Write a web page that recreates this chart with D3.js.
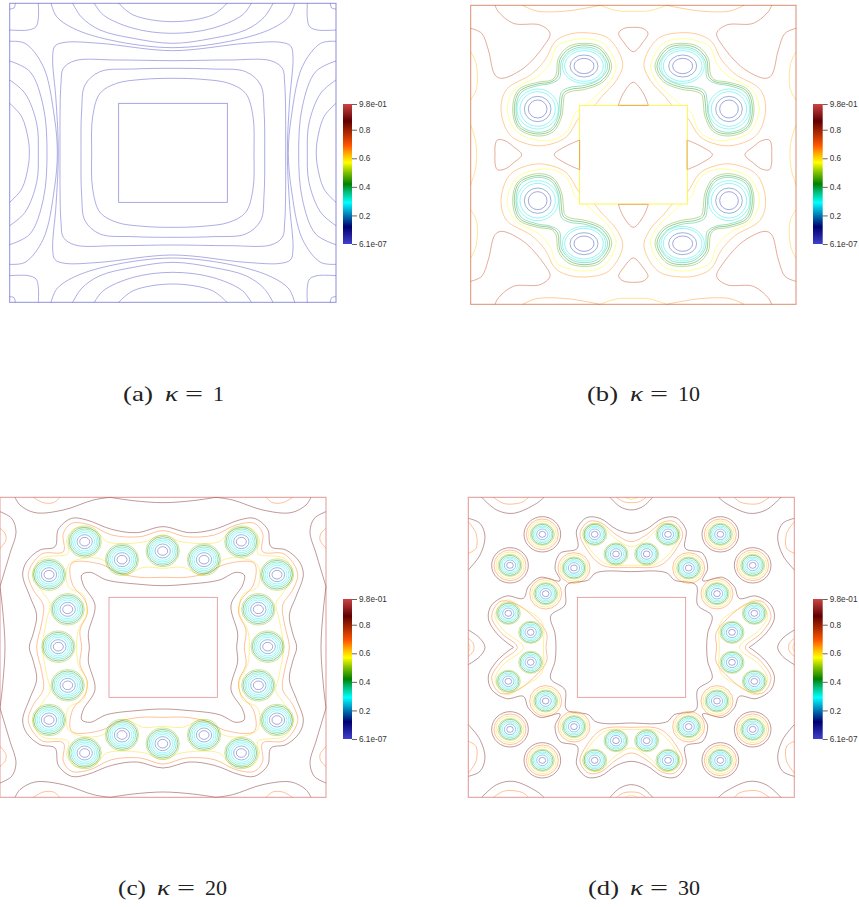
<!DOCTYPE html>
<html>
<head>
<meta charset="utf-8">
<script src="https://cdn.jsdelivr.net/npm/d3@7"></script>
<style>
html,body{margin:0;padding:0;background:#fff;}
svg{display:block;}
</style>
</head>
<body>
<div id="chart"></div>
<script>
// Contours are read off the picture, one quadrant per panel, and mirrored into the other three
// each curve: [level, [[x,y],...]], a curve whose last point equals its first is closed

/** colour bar */
var barStops = [0, 0.12, 0.19, 0.29, 0.36, 0.42, 0.5, 0.57, 0.64, 0.69, 0.86, 0.98];
var barColors = ["#4040cc", "#000070", "#0066aa", "#00ffff", "#00c080", "#008000", "#80c000", "#ffff00", "#ffa000", "#ff5500", "#600000", "#cc4444"];
var barTicks = [6.1e-7, 0.2, 0.4, 0.6, 0.8, 0.98];
var barLabels = ["6.1e-07", "0.2", "0.4", "0.6", "0.8", "9.8e-01"];

/** panel (a) */
var aCurves = [
  [0.02, [[356,10],[400,45],[518,65]]],
  [0.02, [[283,10],[310,45],[400,85],[518,100]]],
  [0.02, [[218,10],[245,52],[300,90],[400,115],[518,130]]],
  [0.02, [[153,10],[170,50],[220,85],[330,120],[518,143]]],
  [0.02, [[518,152],[300,130],[195,127],[165,138],[158,170],[168,300],[175,458]]],
  [0.02, [[180,458],[183,250],[190,205],[225,182],[350,180],[518,182]]],
  [0.02, [[243,458],[245,330],[255,255],[300,215],[400,207],[518,205]]],
  [0.02, [[275,458],[278,350],[300,280],[350,250],[430,238],[518,235]]],
  [0.02, [[29,310],[65,350],[85,420],[88,458]]],
  [0.02, [[29,240],[75,280],[110,370],[115,458]]],
  [0.02, [[29,183],[90,215],[130,320],[141,458]]],
  [0.02, [[29,124],[75,130],[130,200],[163,350],[172,458]]],
  [0.02, [[29,90],[85,90],[108,80],[115,55],[115,10]]],
  [0.02, [[29,27],[42,24],[46,10]]]
];

/** panel (b) */
var bVortices = [[372,198],[233,327]];
var bRings = [
  [[30,23,0.05],[42,33,0.17],[58,46,0.27],[65,52,0.31]],
  [[28,27,0.05],[40,38,0.17],[53,52,0.27],[62,60,0.31]]
];
var bCurves = [
  [0.47, [[372,130],[420,140],[455,198],[430,245],[375,268],[335,274],[315,284],[310,310],[305,350],[280,395],[233,408],[175,385],[158,327],[175,270],[233,247],[275,240],[288,225],[295,175],[325,140],[372,130]]],
  [0.42, [[372,135],[418,146],[449,198],[426,241],[375,262],[332,268],[310,280],[304,310],[300,348],[277,390],[233,402],[178,381],[163,327],[179,274],[233,252],[272,246],[293,230],[300,178],[328,146],[372,135]]],
  [0.37, [[372,141],[413,151],[443,198],[421,236],[375,256],[330,262],[305,275],[298,310],[295,346],[274,385],[233,397],[182,377],[168,327],[183,278],[233,257],[270,251],[298,235],[305,182],[332,151],[372,141]]],
  [0.57, [[372,116],[430,130],[468,198],[450,245],[405,290],[372,320],[345,340],[325,390],[285,418],[233,420],[170,395],[142,327],[165,268],[235,228],[270,190],[290,140],[330,122],[372,116]]],
  [0.66, [[372,98],[445,115],[488,190],[470,240],[425,290],[400,320],[360,350],[320,410],[270,433],[220,436],[150,405],[123,327],[140,268],[215,222],[255,180],[285,125],[320,105],[372,98]]],
  [0.76, [[32,85],[65,100],[85,150],[105,225],[125,235],[190,205],[250,140],[270,100],[240,75],[160,70],[115,35],[105,16]]],
  [0.76, [[520,155],[490,125],[476,100],[490,86],[520,82]]],
  [0.76, [[475,316],[490,280],[520,247]]],
  [0.76, [[185,464],[160,440],[135,422],[112,420],[105,440],[105,464]]],
  [0.76, [[359,420],[315,440],[283,464]]],
  [0.66, [[188,16],[230,33],[320,33],[420,16]]],
  [0.62, [[420,16],[470,32],[520,34]]],
  [0.62, [[32,155],[48,190],[50,265],[32,300]]],
  [0.62, [[32,375],[46,420],[50,464]]]
];
var bEdges = [
  [0.76, [[475,316],[520,316]]],
  [0.76, [[359,420],[359,464]]]
];

/** panel (c) */
var cVortices = [[254,155],[366,209],[488,183],[147,254],[203,358],[175,470]];
var cRings = [[15,13,0.04],[23,21,0.18],[30,28,0.28],[36,33,0.31],[41,38,0.35],[46,43,0.42],[50,47,0.5]];
var cCurves = [
  [0.86, [[489,110],[410,128],[335,118],[260,90],[215,85],[175,118],[165,170],[120,180],[80,215],[68,254],[90,320],[110,375],[100,430],[88,472]]],
  [0.68, [[489,122],[420,140],[335,135],[270,105],[215,100],[190,130],[190,185],[125,192],[85,250],[100,300],[130,345],[125,400],[110,472]]],
  [0.6,  [[489,135],[435,155],[320,155],[290,125],[225,115],[200,150],[205,190],[125,205],[100,250],[130,310],[150,340],[140,390],[128,472]]],
  [0.86, [[489,287],[420,283],[320,270],[270,247],[245,255],[250,285],[285,345],[265,430],[268,472]]],
  [0.68, [[489,262],[420,262],[360,250],[300,222],[215,220],[218,285],[255,330],[262,370],[240,420],[245,472]]],
  [0.6,  [[489,235],[430,232],[370,255],[305,208],[250,205],[205,225],[205,290],[250,315],[260,370],[235,420],[230,472]]],
  [0.86, [[45,22],[60,45],[105,68],[190,60],[280,30],[330,22]]],
  [0.86, [[330,22],[400,32],[489,38]]],
  [0.68, [[100,22],[130,38],[160,38],[180,22]]],
  [0.86, [[0,65],[35,85],[48,125],[30,190],[15,240],[0,290]]],
  [0.86, [[0,290],[8,360],[15,472]]],
  [0.68, [[0,115],[15,130],[18,150],[0,175]]]
];

/** panel (d) */
var dVortices = [[404,133],[468,192],[247,133],[150,226],[342,234],[257,311],[145,370],[212,427]];
var dRings = [[10,9,0.04],[17,16,0.2],[23,21,0.28],[28,25,0.33],[32,30,0.42],[36,33,0.5]];
var dLoneVortices = [[247,133],[150,226]];
var dLoneRings = [[42,40,0.6],[48,46,0.68],[55,53,0.86]];
var dNearVortices = [[342,234],[257,311]];
var dNearRings = [[42,40,0.6],[48,46,0.68]];
var dCurves = [
  [0.86, [[514,130],[470,118],[420,85],[380,83],[350,120],[352,175],[300,190],[285,235],[300,272],[240,262],[205,290],[190,325],[140,318],[95,345],[85,385],[110,430],[150,465],[160,472]]],
  [0.86, [[514,245],[440,243],[405,250],[385,270],[320,285],[315,345],[272,378],[285,430],[288,472]]],
  [0.68, [[514,155],[470,135],[420,97],[385,95],[360,130],[372,165],[425,225],[514,232]]],
  [0.6,  [[514,170],[465,145],[415,100],[380,115],[375,150],[435,220],[514,225]]],
  [0.68, [[172,472],[125,430],[95,380],[120,335],[165,340],[225,385],[260,430],[258,472]]],
  [0.6,  [[190,472],[130,420],[105,375],[140,330],[180,350],[245,395],[250,472]]],
  [0.86, [[65,22],[110,60],[160,70],[230,40],[252,22]]],
  [0.68, [[100,22],[130,40],[160,42],[190,35],[205,22]]],
  [0.86, [[25,85],[60,100],[75,140],[60,195],[25,240]]],
  [0.68, [[25,95],[48,130],[48,175],[25,190]]],
  [0.86, [[450,22],[480,50],[514,60]]],
  [0.68, [[470,22],[490,35],[514,38]]],
  [0.62, [[495,22],[514,28]]],
  [0.86, [[25,420],[60,445],[75,472]]],
  [0.68, [[25,445],[40,460],[42,472]]],
  [0.62, [[25,460],[30,472]]]
];

/** panel frames: read extents, where they land on the page, the hole, and the colour bar */
var panelIds = ["a", "b", "c", "d"];
var readX = [[29,1008],[32,1008],[0,978],[25,1003]];
var readY = [[10,907],[16,913],[22,922],[22,922]];
var pageX = [[9.67,336],[470.67,796],[0,326],[468.33,794.33]];
var pageY = [[3.33,302.33],[5.33,304.33],[497.33,797.33],[497.33,797.33]];
var holeX = [[356,682],[359,682],[327,652],[352,677]];
var holeY = [[310,607],[316,612],[322,622],[322,622]];
var frameLevels = [0.02, 0.76, 0.98, 0.98];
var holeLevels = [0.02, 0.58, 0.98, 0.98];
var holeOpacity = [0.55, 0.85, 0.6, 0.6];
var barX = [[343,352],[813,822.7],[343,352],[813,822.7]];
var barY = [[104,244],[104,244],[599,739],[599,739]];

var captionLetters = ["(a)", "(b)", "(c)", "(d)"];
var captionKappa = ["1", "10", "20", "30"];
var captionLabelX = [123, 587, 118, 588];
var captionKappaX = [165, 630, 157, 630];
var captionLabelW = [30, 31, 28, 31];
var captionY = [401, 401, 895, 895];

var width = 859, height = 907;
var color = d3.scaleLinear().domain(barStops).range(barColors).clamp(true);

var svg = d3.select("#chart").append("svg")
    .attr("width", width)
    .attr("height", height);

var defs = svg.append("defs");
var grad = defs.append("linearGradient")
    .attr("id", "barGrad")
    .attr("x1", 0).attr("y1", 1).attr("x2", 0).attr("y2", 0);
grad.selectAll("stop")
    .data(barStops)
    .enter().append("stop")
    .attr("offset", function(d) { return d / 0.98; })
    .attr("stop-color", function(d) { return color(d); });
// the source picture is a slightly soft raster
defs.append("filter")
    .attr("id", "soft")
    .attr("x", "-2%").attr("y", "-2%").attr("width", "104%").attr("height", "104%")
    .append("feGaussianBlur")
    .attr("stdDeviation", 0.3);

var allCurves = [aCurves, bCurves, cCurves, dCurves];
var allEdges = [[], bEdges, [], []];
panelIds.forEach(function(id, i) { drawPanel(i); });

/** One contour panel with its colour bar and caption */
function drawPanel(i) {
    var x = d3.scaleLinear().domain(readX[i]).range(pageX[i]);
    var y = d3.scaleLinear().domain(readY[i]).range(pageY[i]);
    var mx = readX[i][0] + readX[i][1],
        my = readY[i][0] + readY[i][1];

    var g = svg.append("g")
        .attr("class", "panel-" + panelIds[i])
        .attr("fill", "none")
        .attr("stroke-width", 0.8)
        .attr("stroke-opacity", 0.5)
        .attr("filter", "url(#soft)");

    allCurves[i].forEach(function(c) { drawCurve(g, x, y, mx, my, c); });

    if (i === 1) {
        bVortices.forEach(function(v, k) { drawRings(g, x, y, mx, my, [v], bRings[k]); });
    } else if (i === 2) {
        drawRings(g, x, y, mx, my, cVortices, cRings);
    } else if (i === 3) {
        drawRings(g, x, y, mx, my, dVortices, dRings);
        drawRings(g, x, y, mx, my, dLoneVortices, dLoneRings);
        drawRings(g, x, y, mx, my, dNearVortices, dNearRings);
    }

    // hole in the middle, always on top of the contours it cuts
    g.append("rect")
        .attr("x", x(holeX[i][0]))
        .attr("y", y(holeY[i][0]))
        .attr("width", x(holeX[i][1]) - x(holeX[i][0]))
        .attr("height", y(holeY[i][1]) - y(holeY[i][0]))
        .attr("fill", "#fff")
        .attr("stroke", color(holeLevels[i]))
        .attr("stroke-opacity", holeOpacity[i]);

    allEdges[i].forEach(function(c) { drawCurve(g, x, y, mx, my, c); });

    g.append("rect")
        .attr("x", pageX[i][0])
        .attr("y", pageY[i][0])
        .attr("width", pageX[i][1] - pageX[i][0])
        .attr("height", pageY[i][1] - pageY[i][0])
        .attr("stroke", color(frameLevels[i]))
        .attr("stroke-width", 1.1);

    drawBar(i);
    drawCaption(i);
}

/** Mirror one quadrant curve, joining the copies wherever it ends on a symmetry axis */
function drawCurve(g, x, y, mx, my, c) {
    var pts = c[1];
    var first = pts[0], last = pts[pts.length - 1];
    var closedLoop = pts.length > 2 && first[0] === last[0] && first[1] === last[1];

    function onAxis(p) {
        if (Math.abs(2 * p[0] - mx) < 5) return "v";
        if (Math.abs(2 * p[1] - my) < 5) return "h";
        return null;
    }
    function flip(list, fx, fy) {
        return list.map(function(p) { return [fx ? mx - p[0] : p[0], fy ? my - p[1] : p[1]]; });
    }
    function back(list) { return list.slice().reverse().slice(1); }

    var a = closedLoop ? null : onAxis(first),
        b = closedLoop ? null : onAxis(last);
    var out = [];    // [points, closed]

    if (closedLoop) {
        var open = pts.slice(1);
        [[0,0],[1,0],[0,1],[1,1]].forEach(function(f) { out.push([flip(open, f[0], f[1]), true]); });
    } else if (a && b && a !== b) {
        // runs from one axis to the other: a single loop round the middle
        var firstFlip = b === "v" ? [1,0] : [0,1];
        var thirdFlip = b === "v" ? [0,1] : [1,0];
        var loop = pts
            .concat(back(flip(pts, firstFlip[0], firstFlip[1])))
            .concat(flip(pts, 1, 1).slice(1))
            .concat(back(flip(pts, thirdFlip[0], thirdFlip[1])));
        loop.pop();
        out.push([loop, true]);
    } else if (a && a === b) {
        var f = a === "v" ? [1,0] : [0,1];
        var both = pts.concat(back(flip(pts, f[0], f[1])));
        both.pop();
        out.push([both, true]);
        out.push([flip(both, f[1], f[0]), true]);
    } else if (a || b) {
        var axis = b || a;
        var f2 = axis === "v" ? [1,0] : [0,1];
        var chain = b ? pts.concat(back(flip(pts, f2[0], f2[1])))
                      : back(flip(pts, f2[0], f2[1])).concat(pts);
        out.push([chain, false]);
        out.push([flip(chain, f2[1], f2[0]), false]);
    } else {
        [[0,0],[1,0],[0,1],[1,1]].forEach(function(f3) { out.push([flip(pts, f3[0], f3[1]), false]); });
    }

    out.forEach(function(o) {
        var line = d3.line()
            .x(function(p) { return x(p[0]); })
            .y(function(p) { return y(p[1]); })
            .curve(o[1] ? d3.curveCatmullRomClosed : d3.curveCatmullRom);
        g.append("path")
            .attr("d", line(o[0]))
            .attr("stroke", color(c[0]));
    });
}

/** Ellipse rings round each vortex of a quadrant, mirrored */
function drawRings(g, x, y, mx, my, vortices, rings) {
    var sx = Math.abs(x(1) - x(0)), sy = Math.abs(y(1) - y(0));
    vortices.forEach(function(v) {
        // vortices sitting on an axis only get one copy across it
        var xs = Math.abs(2 * v[0] - mx) < 8 ? [v[0]] : [v[0], mx - v[0]];
        var ys = Math.abs(2 * v[1] - my) < 8 ? [v[1]] : [v[1], my - v[1]];
        xs.forEach(function(cx) {
            ys.forEach(function(cy) {
                g.selectAll(null)
                    .data(rings)
                    .enter().append("ellipse")
                    .attr("cx", x(cx))
                    .attr("cy", y(cy))
                    .attr("rx", function(r) { return r[0] * sx; })
                    .attr("ry", function(r) { return r[1] * sy; })
                    .attr("stroke", function(r) { return color(r[2]); });
            });
        });
    });
}

/** Vertical colour bar with its ticks */
function drawBar(i) {
    var s = d3.scaleLinear().domain([6.1e-7, 0.98]).range([barY[i][1], barY[i][0]]);
    svg.append("rect")
        .attr("x", barX[i][0])
        .attr("y", barY[i][0])
        .attr("width", barX[i][1] - barX[i][0])
        .attr("height", barY[i][1] - barY[i][0])
        .attr("fill", "url(#barGrad)");

    var axis = d3.axisRight(s)
        .tickValues(barTicks)
        .tickSize(5)
        .tickPadding(2)
        .tickFormat(function(d, k) { return barLabels[k]; });

    var ag = svg.append("g")
        .attr("transform", "translate(" + barX[i][1] + ",0)")
        .call(axis);
    ag.select(".domain").remove();
    ag.selectAll("line").attr("stroke", "#222").attr("stroke-width", 0.7);
    ag.selectAll("text")
        .attr("fill", "#333")
        .style("font-family", "'Liberation Sans', sans-serif")
        .style("font-size", "8.2px");
}

/** Caption under a panel, each piece placed where the reference has it */
function drawCaption(i) {
    var k = captionKappaX[i];
    var cap = svg.append("g")
        .attr("fill", "#222")
        .style("font-family", "'Liberation Serif', serif")
        .style("font-size", "22px");
    cap.append("text")
        .attr("x", captionLabelX[i]).attr("y", captionY[i])
        .attr("textLength", captionLabelW[i]).attr("lengthAdjust", "spacingAndGlyphs")
        .text(captionLetters[i]);
    cap.append("text")
        .attr("x", k).attr("y", captionY[i])
        .style("font-style", "italic")
        .attr("textLength", 13).attr("lengthAdjust", "spacingAndGlyphs")
        .text("\u03ba");
    cap.append("text")
        .attr("x", k + 20).attr("y", captionY[i])
        .attr("textLength", 18).attr("lengthAdjust", "spacingAndGlyphs")
        .text("=");
    cap.append("text")
        .attr("x", k + 48).attr("y", captionY[i])
        .text(captionKappa[i]);
}
</script>
</body>
</html>
